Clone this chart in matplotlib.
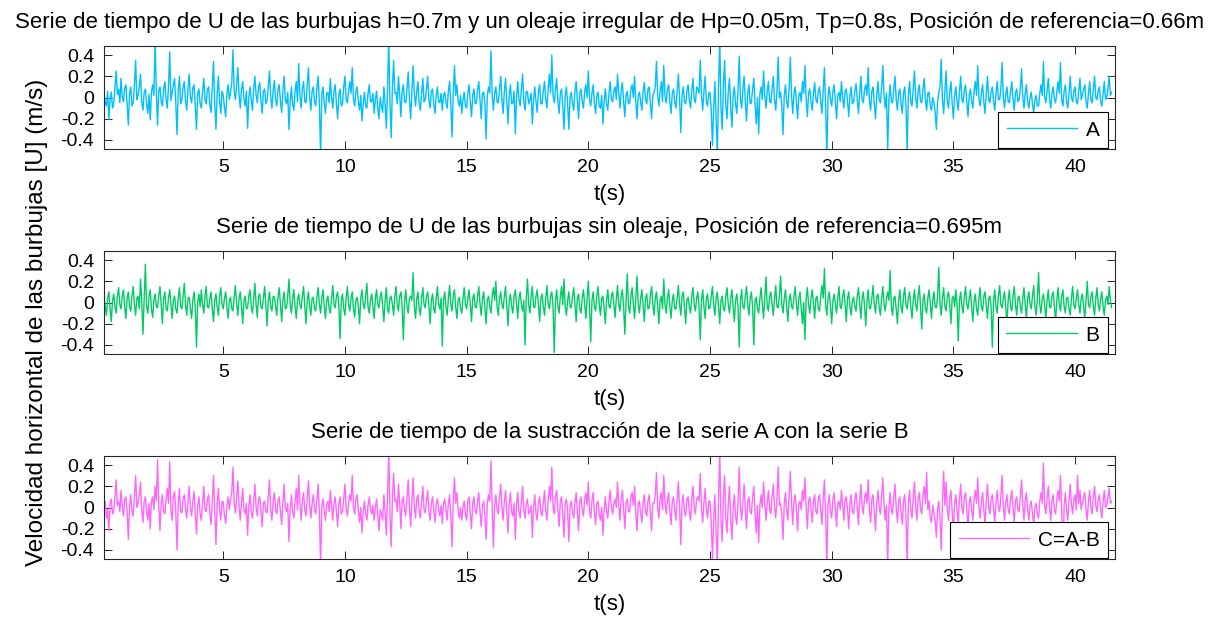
import numpy as np
import matplotlib
matplotlib.use("Agg")
import matplotlib.pyplot as plt

plt.rcParams['font.family'] = ['Liberation Sans', 'DejaVu Sans']
plt.rcParams['axes.unicode_minus'] = False

# sampled every 0.05 s starting at t = 0.1 s, one row per second
t0 = 0.1
dt = 0.05

u_a = [
    0.02, -0.04, -0.08, 0.06, -0.21, -0.02, 0.05, -0.1, -0.06, 0.1, 0.25, 0.03, 0.08, -0.05, 0.18, 0.0, -0.04, 0.09, 0.12, -0.06,
    -0.26, 0.04, 0.1, -0.08, -0.05, 0.12, 0.35, -0.02, 0.02, 0.1, 0.22, -0.04, -0.12, 0.05, 0.08, -0.06, -0.15, 0.03, -0.21, 0.05,
    0.12, 0.02, 0.55, 0.05, -0.26, 0.06, 0.1, -0.04, -0.08, 0.08, 0.15, -0.02, -0.1, 0.1, 0.43, -0.03, 0.05, 0.12, 0.18, -0.05,
    -0.35, 0.06, 0.2, -0.06, -0.02, 0.1, 0.15, -0.04, -0.12, 0.08, 0.22, 0.0, -0.05, 0.09, 0.12, -0.08, -0.3, 0.04, 0.08, -0.06,
    -0.1, 0.06, 0.18, -0.02, -0.06, 0.08, 0.1, -0.08, -0.14, 0.1, 0.34, -0.06, -0.3, 0.04, 0.2, -0.04, -0.15, 0.06, 0.02, -0.1,
    -0.18, 0.04, 0.12, -0.02, 0.05, 0.14, 0.45, 0.06, -0.02, 0.12, 0.28, 0.02, -0.1, 0.08, 0.15, -0.02, -0.08, 0.06, -0.29, 0.0,
    0.1, -0.02, -0.12, 0.08, 0.2, 0.02, -0.05, 0.1, 0.14, -0.04, -0.15, 0.06, 0.08, -0.06, -0.03, 0.1, 0.25, 0.0, -0.1, 0.06,
    0.16, -0.02, -0.08, 0.08, 0.12, -0.04, -0.14, 0.06, 0.2, -0.02, -0.06, 0.05, -0.3, -0.04, 0.1, -0.06, -0.12, 0.06, 0.15, -0.04,
    0.32, 0.02, -0.1, 0.08, 0.15, -0.04, -0.05, 0.12, 0.28, 0.0, -0.12, 0.06, 0.1, -0.04, -0.08, 0.1, 0.2, -0.06, -0.55, 0.04,
    0.1, -0.06, -0.15, 0.04, 0.05, -0.05, 0.18, 0.0, -0.1, 0.06, 0.12, -0.06, -0.2, 0.02, 0.08, -0.08, -0.06, 0.1, 0.2, -0.02,
    -0.05, 0.06, 0.15, 0.04, 0.28, -0.02, -0.08, 0.06, 0.1, -0.04, -0.12, 0.02, -0.22, -0.06, 0.05, -0.08, -0.1, 0.04, 0.12, -0.04,
    -0.04, 0.04, -0.15, -0.02, 0.06, -0.1, -0.2, 0.0, -0.08, -0.14, 0.1, -0.06, -0.29, 0.08, 0.55, -0.06, -0.38, 0.1, 0.35, 0.04,
    0.05, -0.06, 0.2, 0.02, -0.18, 0.06, 0.12, -0.04, -0.05, 0.08, 0.24, -0.02, -0.2, 0.06, 0.3, 0.04, -0.08, 0.06, 0.15, -0.06,
    -0.12, 0.04, 0.18, -0.04, -0.02, 0.08, 0.2, -0.02, -0.1, 0.06, 0.08, -0.06, -0.15, 0.02, 0.1, -0.04, -0.05, 0.04, -0.12, 0.02,
    0.05, -0.04, -0.1, 0.06, 0.15, -0.06, -0.37, 0.04, 0.3, 0.02, 0.12, -0.04, -0.08, 0.02, -0.15, -0.02, 0.05, -0.08, -0.1, 0.04,
    0.12, -0.04, -0.18, 0.02, 0.08, -0.06, -0.05, 0.08, 0.15, -0.02, -0.2, 0.04, 0.05, -0.06, -0.39, 0.02, 0.1, 0.04, 0.44, 0.02,
    -0.12, 0.04, 0.1, -0.04, -0.05, 0.08, 0.2, -0.02, -0.15, 0.06, 0.18, -0.04, -0.25, 0.02, 0.12, -0.06, -0.05, 0.06, -0.34, 0.0,
    0.15, -0.02, -0.08, 0.08, 0.22, -0.04, -0.12, 0.06, 0.05, -0.06, -0.02, 0.04, -0.25, -0.02, 0.1, -0.04, -0.14, 0.06, 0.12, -0.06,
    -0.06, 0.06, 0.15, -0.02, -0.1, 0.08, 0.22, 0.04, 0.4, 0.02, -0.05, 0.08, 0.18, -0.04, -0.15, 0.04, 0.08, -0.08, -0.3, 0.02,
    0.1, -0.06, -0.3, 0.0, 0.05, -0.06, -0.12, 0.06, 0.15, -0.02, -0.2, 0.04, 0.08, -0.04, -0.1, 0.06, 0.12, 0.0, 0.25, -0.02,
    -0.08, 0.04, 0.12, -0.06, -0.15, 0.02, 0.05, -0.08, -0.1, 0.02, -0.25, -0.04, 0.08, -0.06, -0.12, 0.04, 0.15, -0.02, -0.04, 0.06,
    0.1, -0.02, 0.22, 0.04, -0.1, 0.06, 0.14, -0.04, -0.18, 0.02, 0.06, -0.06, -0.05, 0.08, 0.12, 0.0, 0.2, -0.04, -0.2, 0.02,
    0.05, -0.04, -0.12, 0.06, 0.14, -0.02, -0.06, 0.08, 0.1, -0.06, -0.2, 0.02, 0.05, 0.1, 0.34, 0.02, -0.08, 0.06, 0.15, -0.04,
    0.3, 0.02, -0.05, 0.08, 0.12, -0.04, -0.15, 0.04, 0.08, -0.04, -0.1, 0.06, 0.22, -0.02, -0.33, 0.02, 0.1, -0.04, -0.06, 0.06,
    0.12, -0.02, -0.1, 0.06, 0.18, -0.02, -0.05, 0.1, 0.08, 0.04, 0.35, 0.02, -0.12, 0.06, 0.2, -0.04, -0.08, 0.04, 0.05, -0.12,
    -0.45, -0.1, 0.15, -0.2, -0.55, 0.1, 0.55, -0.1, -0.3, 0.12, 0.35, -0.08, -0.2, 0.06, 0.18, -0.1, -0.28, 0.02, 0.1, -0.06,
    -0.15, 0.06, 0.39, -0.02, -0.1, 0.08, 0.2, -0.04, -0.22, 0.04, 0.12, -0.06, -0.05, 0.08, 0.18, -0.06, -0.25, 0.0, -0.34, 0.04,
    0.1, -0.02, 0.25, 0.02, -0.1, 0.06, 0.15, -0.04, -0.05, 0.08, 0.2, -0.02, -0.12, 0.06, 0.38, 0.0, 0.05, -0.08, -0.35, 0.02,
    0.12, -0.04, -0.1, 0.08, 0.38, 0.02, -0.15, 0.04, 0.1, -0.04, -0.2, 0.02, 0.05, -0.04, 0.15, 0.04, 0.3, -0.02, -0.18, 0.04,
    0.08, -0.04, -0.12, 0.04, 0.14, -0.02, -0.05, 0.06, 0.1, -0.04, -0.15, 0.06, 0.28, -0.08, -0.55, 0.02, 0.1, -0.02, -0.08, 0.06,
    0.12, -0.04, -0.2, 0.02, 0.05, -0.04, 0.15, 0.0, -0.1, 0.06, 0.08, -0.04, -0.18, 0.02, 0.1, -0.06, -0.04, 0.06, 0.13, -0.02,
    -0.15, 0.04, 0.2, -0.02, -0.05, 0.08, 0.12, 0.02, 0.28, -0.04, -0.12, 0.06, 0.1, -0.06, -0.2, 0.02, 0.15, -0.02, -0.05, 0.08,
    0.3, 0.02, -0.1, 0.04, -0.5, -0.02, 0.12, -0.04, -0.05, 0.08, 0.2, -0.02, -0.12, 0.04, 0.08, -0.06, -0.15, 0.04, 0.1, -0.08,
    -0.5, 0.02, 0.15, -0.04, -0.08, 0.08, 0.25, 0.0, -0.1, 0.06, 0.12, -0.04, -0.05, 0.08, 0.18, -0.02, -0.12, 0.04, 0.05, -0.08,
    -0.12, 0.0, -0.05, -0.14, -0.3, -0.04, 0.05, 0.1, 0.36, -0.02, -0.15, 0.06, 0.25, -0.04, -0.1, 0.06, 0.15, -0.06, -0.2, 0.02,
    0.1, -0.04, -0.12, 0.06, 0.2, -0.02, -0.05, 0.08, 0.12, -0.04, -0.18, 0.02, 0.08, -0.04, -0.1, 0.06, 0.15, 0.02, 0.3, -0.02,
    -0.08, 0.04, 0.12, -0.04, -0.15, 0.04, 0.2, -0.02, -0.05, 0.06, 0.1, -0.04, -0.12, 0.04, 0.15, -0.02, -0.02, 0.08, 0.33, 0.0,
    -0.1, 0.02, 0.1, -0.04, -0.05, 0.06, 0.15, -0.02, -0.12, 0.04, 0.08, -0.04, -0.02, 0.08, 0.27, 0.0, -0.1, 0.04, 0.12, -0.04,
    -0.1, 0.0, 0.05, -0.06, -0.15, -0.02, 0.02, -0.08, -0.08, 0.04, 0.12, 0.02, 0.34, 0.0, -0.05, 0.06, 0.18, -0.02, -0.1, 0.04,
    0.1, -0.02, -0.05, 0.06, 0.15, 0.04, 0.33, -0.02, -0.08, 0.06, 0.12, -0.04, -0.1, 0.04, 0.2, 0.0, -0.04, 0.06, 0.1, -0.04,
    -0.06, 0.06, 0.18, -0.02, 0.02, 0.08, 0.12, -0.04, -0.1, 0.04, 0.15, -0.02, -0.05, 0.08, 0.2, 0.0, -0.02, 0.06, 0.1, -0.04,
    -0.08, 0.04, 0.15, -0.02, 0.0, 0.08, 0.2, 0.02, 0.05,
]

u_b = [
    0.05, -0.04, -0.12, 0.04, 0.1, -0.06, -0.18, 0.02, 0.08, -0.04, -0.1, 0.06, 0.14, -0.02, -0.06, 0.06, 0.12, -0.04, -0.15, 0.04,
    0.1, -0.04, -0.08, 0.06, 0.15, -0.02, -0.12, 0.04, 0.06, -0.06, 0.22, 0.02, -0.3, 0.04, 0.36, -0.04, -0.1, 0.06, 0.12, -0.06,
    -0.14, 0.02, 0.08, -0.04, -0.05, 0.06, 0.15, -0.02, -0.2, 0.04, 0.1, -0.06, -0.08, 0.04, 0.12, -0.02, -0.15, 0.02, 0.06, -0.06,
    -0.1, 0.04, 0.14, -0.04, -0.06, 0.06, 0.18, -0.02, -0.12, 0.04, 0.05, -0.06, -0.15, 0.02, 0.1, -0.04, -0.42, 0.0, 0.08, -0.04,
    0.12, -0.02, -0.1, 0.06, 0.15, -0.04, -0.05, 0.04, 0.1, -0.06, -0.18, 0.02, 0.08, -0.04, -0.12, 0.06, 0.14, -0.02, -0.06, 0.04,
    0.1, -0.04, -0.15, 0.02, 0.05, -0.06, -0.08, 0.06, 0.16, -0.02, -0.12, 0.04, 0.1, -0.04, -0.2, 0.02, 0.06, -0.06, -0.05, 0.06,
    0.12, -0.04, -0.1, 0.04, 0.18, -0.02, -0.14, 0.06, 0.08, -0.04, -0.06, 0.04, 0.15, -0.02, -0.22, 0.02, 0.1, -0.04, -0.08, 0.06,
    0.05, -0.04, -0.12, 0.06, 0.14, -0.02, -0.18, 0.02, 0.1, -0.06, -0.05, 0.06, 0.22, -0.02, -0.1, 0.04, 0.12, -0.04, -0.15, 0.02,
    0.08, -0.02, -0.06, 0.06, 0.15, -0.04, -0.2, 0.02, 0.1, -0.04, -0.12, 0.04, 0.05, -0.06, -0.08, 0.06, 0.14, -0.02, -0.1, 0.04,
    0.12, -0.04, -0.15, 0.02, 0.06, -0.06, -0.1, 0.04, 0.16, -0.02, -0.05, 0.06, 0.1, -0.04, -0.34, 0.02, 0.08, -0.06, -0.12, 0.04,
    0.15, -0.02, -0.08, 0.04, 0.1, -0.06, -0.14, 0.02, 0.05, -0.04, -0.2, 0.04, 0.12, -0.02, -0.06, 0.06, 0.18, -0.04, -0.1, 0.02,
    0.08, -0.04, -0.15, 0.04, 0.12, -0.02, -0.05, 0.06, 0.1, -0.04, -0.18, 0.02, 0.14, -0.06, -0.1, 0.04, 0.06, -0.02, -0.12, 0.06,
    0.15, -0.02, -0.08, 0.06, 0.1, -0.04, -0.35, 0.02, 0.12, -0.04, -0.1, 0.04, 0.06, 0.02, 0.28, -0.04, -0.15, 0.04, 0.1, -0.06,
    -0.12, 0.04, 0.14, -0.02, -0.05, 0.06, 0.1, -0.04, -0.2, 0.02, 0.08, -0.06, -0.1, 0.04, 0.15, -0.02, -0.06, 0.04, -0.41, 0.02,
    0.1, -0.04, -0.12, 0.04, 0.16, -0.02, -0.08, 0.06, 0.12, -0.04, -0.15, 0.02, 0.05, -0.06, -0.1, 0.04, 0.14, -0.02, -0.06, 0.04,
    0.12, -0.02, -0.18, 0.04, 0.08, -0.04, -0.05, 0.06, 0.15, -0.02, -0.12, 0.04, 0.1, -0.06, -0.2, 0.02, 0.06, -0.04, -0.1, 0.06,
    0.14, 0.02, 0.2, -0.04, -0.12, 0.04, 0.1, -0.02, -0.06, 0.06, 0.15, -0.04, -0.22, 0.02, 0.08, -0.04, -0.1, 0.06, 0.12, -0.02,
    -0.15, 0.04, 0.1, -0.02, -0.08, 0.02, -0.4, 0.04, 0.22, -0.02, -0.1, 0.06, 0.15, -0.04, -0.05, 0.06, 0.12, -0.02, -0.18, 0.04,
    0.08, -0.04, -0.12, 0.04, 0.16, -0.02, -0.06, 0.06, 0.1, -0.04, -0.47, 0.02, 0.12, -0.04, -0.1, 0.06, 0.15, -0.02, 0.22, -0.04,
    -0.12, 0.02, 0.1, -0.04, -0.05, 0.06, 0.14, -0.02, -0.18, 0.04, 0.08, -0.06, -0.1, 0.04, 0.12, -0.02, -0.15, 0.04, 0.2, -0.04,
    -0.37, 0.02, 0.1, -0.04, -0.08, 0.06, 0.15, -0.02, -0.12, 0.04, 0.06, -0.06, -0.2, 0.02, 0.12, -0.04, -0.05, 0.06, 0.1, -0.02,
    -0.14, 0.04, 0.16, -0.02, -0.08, 0.06, 0.12, -0.04, -0.3, 0.02, 0.27, -0.04, -0.1, 0.06, 0.14, -0.02, -0.15, 0.04, 0.25, -0.02,
    -0.1, 0.04, 0.12, -0.02, -0.18, 0.04, 0.08, -0.06, -0.05, 0.06, 0.15, -0.02, -0.12, 0.04, 0.1, -0.04, -0.2, 0.02, 0.06, -0.06,
    0.22, -0.02, -0.1, 0.04, 0.12, -0.04, -0.15, 0.02, 0.08, -0.06, -0.06, 0.04, 0.16, -0.02, -0.12, 0.06, 0.1, -0.04, -0.2, 0.02,
    0.05, -0.04, -0.1, 0.06, 0.14, -0.02, -0.08, 0.04, 0.1, -0.04, -0.35, 0.02, 0.12, -0.04, -0.15, 0.04, 0.08, -0.06, -0.05, 0.06,
    0.15, -0.02, -0.12, 0.04, 0.1, -0.04, -0.2, 0.02, 0.06, -0.06, -0.08, 0.06, 0.14, -0.02, -0.1, 0.04, 0.12, -0.04, -0.18, 0.02,
    0.08, -0.04, -0.42, 0.02, 0.12, -0.04, -0.06, 0.06, 0.15, -0.02, -0.12, 0.04, 0.1, -0.04, -0.4, 0.02, 0.05, -0.06, -0.1, 0.04,
    0.14, -0.02, -0.15, 0.04, 0.24, -0.04, -0.08, 0.06, 0.1, -0.02, -0.12, 0.04, 0.16, -0.04, -0.05, 0.06, 0.25, -0.02, -0.1, 0.04,
    0.12, -0.04, -0.18, 0.02, 0.08, -0.04, -0.06, 0.06, 0.15, -0.02, -0.12, 0.04, 0.1, -0.06, -0.2, 0.0, -0.35, 0.04, 0.14, -0.02,
    -0.1, 0.04, 0.12, -0.02, -0.15, 0.04, 0.06, -0.06, -0.08, 0.06, 0.16, 0.04, 0.32, -0.02, -0.12, 0.04, 0.1, -0.04, -0.2, 0.02,
    0.08, -0.02, -0.1, 0.04, 0.15, -0.04, -0.06, 0.06, 0.12, -0.02, -0.18, 0.04, 0.1, -0.04, -0.12, 0.02, 0.05, -0.04, -0.08, 0.06,
    0.14, -0.02, -0.15, 0.04, 0.1, -0.04, -0.22, 0.02, 0.12, -0.06, -0.05, 0.04, 0.16, -0.02, -0.1, 0.06, 0.08, -0.04, -0.12, 0.04,
    0.15, -0.02, -0.08, 0.04, 0.1, 0.02, 0.3, -0.04, -0.12, 0.04, 0.06, -0.06, -0.2, 0.02, 0.12, -0.04, -0.1, 0.06, 0.14, -0.02,
    -0.06, 0.04, 0.1, -0.04, -0.15, 0.02, 0.12, -0.02, -0.08, 0.06, 0.16, -0.04, -0.25, 0.02, 0.08, -0.06, -0.1, 0.04, 0.12, -0.02,
    -0.15, 0.02, 0.1, -0.04, -0.05, 0.06, 0.33, -0.02, -0.12, 0.04, 0.14, -0.04, -0.08, 0.06, 0.1, -0.02, -0.2, 0.04, 0.06, -0.04,
    0.12, -0.02, -0.36, 0.02, 0.1, -0.04, -0.1, 0.06, 0.15, -0.02, -0.06, 0.04, 0.12, -0.04, -0.18, 0.02, 0.08, -0.06, -0.12, 0.04,
    0.14, -0.04, -0.08, 0.06, 0.1, -0.02, -0.15, 0.04, 0.06, -0.04, -0.42, 0.02, 0.12, -0.04, -0.1, 0.06, 0.16, -0.02, -0.05, 0.04,
    0.1, -0.04, -0.2, 0.02, 0.12, -0.04, -0.08, 0.06, 0.15, -0.02, -0.12, 0.04, 0.06, -0.04, -0.1, 0.04, 0.14, -0.02, -0.15, 0.04,
    0.1, -0.02, -0.06, 0.06, 0.16, -0.04, -0.12, 0.04, 0.28, -0.02, -0.1, 0.04, 0.08, -0.04, -0.15, 0.02, 0.12, -0.04, -0.05, 0.06,
    0.1, -0.04, -0.18, 0.02, 0.14, -0.02, -0.08, 0.06, 0.12, -0.04, -0.1, 0.04, 0.05, -0.06, -0.12, 0.04, 0.15, -0.02, -0.06, 0.04,
    0.12, -0.02, -0.1, 0.04, 0.08, -0.04, -0.15, 0.02, 0.2, -0.02, -0.05, 0.06, 0.1, -0.04, -0.12, 0.04, 0.14, -0.02, -0.08, 0.04,
    0.1, -0.04, -0.12, 0.02, 0.06, -0.02, 0.15, 0.02, -0.05,
]

u_c = [
    0.0, 0.06, -0.1, -0.02, -0.22, 0.04, 0.08, -0.06, -0.04, 0.1, 0.26, 0.02, 0.06, -0.04, 0.16, 0.02, -0.08, 0.08, 0.1, -0.04,
    -0.3, 0.02, 0.12, -0.04, -0.08, 0.1, 0.3, 0.0, 0.04, 0.12, 0.24, -0.02, -0.14, 0.06, 0.1, -0.04, -0.12, 0.04, -0.2, 0.06,
    0.1, -0.02, 0.2, 0.06, 0.45, 0.02, -0.22, 0.04, 0.12, -0.04, -0.06, 0.08, 0.18, 0.04, 0.43, -0.02, -0.12, 0.1, 0.15, -0.04,
    -0.4, 0.04, 0.18, -0.04, -0.05, 0.08, 0.12, -0.02, -0.1, 0.06, 0.2, 0.0, -0.08, 0.06, 0.15, -0.06, -0.25, 0.02, 0.1, -0.06,
    -0.12, 0.04, 0.2, -0.02, -0.04, 0.08, 0.12, -0.06, -0.16, 0.08, 0.3, -0.04, -0.35, 0.04, 0.18, -0.02, -0.12, 0.06, 0.05, -0.08,
    -0.15, 0.02, 0.1, -0.02, 0.08, 0.14, 0.38, 0.04, -0.05, 0.1, 0.25, 0.0, -0.12, 0.06, 0.18, -0.02, -0.06, 0.04, -0.26, 0.02,
    0.12, -0.04, -0.1, 0.06, 0.22, 0.0, -0.08, 0.08, 0.1, -0.04, -0.18, 0.04, 0.06, -0.04, -0.05, 0.1, 0.26, -0.02, -0.12, 0.06,
    0.14, -0.02, -0.06, 0.06, 0.1, -0.04, -0.16, 0.04, 0.22, 0.0, -0.04, 0.04, -0.32, -0.02, 0.12, -0.04, -0.1, 0.06, 0.18, -0.02,
    0.3, 0.04, -0.12, 0.06, 0.14, -0.02, -0.08, 0.1, 0.25, 0.02, -0.1, 0.04, 0.12, -0.02, -0.06, 0.08, 0.22, -0.04, -0.55, 0.02,
    0.08, -0.04, -0.12, 0.02, 0.06, -0.04, 0.16, 0.02, -0.12, 0.04, 0.1, -0.04, -0.18, 0.04, 0.1, -0.06, -0.04, 0.08, 0.22, 0.0,
    -0.08, 0.04, 0.12, 0.06, 0.3, 0.0, -0.06, 0.08, 0.12, -0.02, -0.14, 0.0, -0.24, -0.04, 0.06, -0.06, -0.12, 0.02, 0.1, -0.02,
    -0.06, 0.02, -0.12, 0.0, 0.08, -0.08, -0.22, -0.02, -0.06, -0.12, 0.12, -0.04, -0.26, 0.1, 0.55, -0.04, -0.37, 0.08, 0.32, 0.06,
    0.08, -0.04, 0.22, 0.04, -0.2, 0.06, 0.1, -0.02, -0.08, 0.1, 0.26, 0.0, -0.18, 0.06, 0.28, 0.02, -0.1, 0.08, 0.12, -0.04,
    -0.1, 0.06, 0.2, -0.02, -0.05, 0.06, 0.16, -0.04, -0.12, 0.04, 0.1, -0.04, -0.14, 0.04, 0.08, -0.02, -0.08, 0.02, -0.15, 0.04,
    0.08, -0.02, -0.12, 0.04, 0.12, -0.08, -0.37, 0.06, 0.28, 0.04, 0.14, -0.02, -0.1, 0.0, -0.12, 0.0, 0.06, -0.06, -0.12, 0.06,
    0.1, -0.06, -0.2, 0.04, 0.1, -0.04, -0.06, 0.06, 0.14, -0.04, -0.18, 0.02, 0.06, -0.08, -0.3, 0.04, 0.12, 0.06, 0.44, 0.0,
    -0.38, 0.02, 0.12, -0.02, -0.06, 0.1, 0.22, 0.0, -0.12, 0.06, 0.16, -0.04, -0.24, 0.04, 0.14, -0.04, -0.08, 0.04, -0.3, 0.02,
    0.14, -0.04, -0.1, 0.06, 0.2, -0.02, -0.1, 0.04, 0.08, -0.06, -0.04, 0.02, -0.28, 0.0, 0.12, -0.06, -0.12, 0.04, 0.1, -0.04,
    -0.08, 0.04, 0.16, -0.04, -0.12, 0.06, 0.2, 0.06, 0.38, 0.0, -0.06, 0.1, 0.16, -0.02, -0.18, 0.06, 0.1, -0.06, -0.28, 0.04,
    0.08, -0.04, -0.32, 0.02, 0.06, -0.04, -0.1, 0.04, 0.14, -0.04, -0.22, 0.06, 0.1, -0.02, -0.08, 0.08, 0.14, 0.02, 0.24, -0.04,
    -0.1, 0.06, 0.14, -0.04, -0.16, 0.04, 0.06, -0.06, -0.12, 0.0, -0.26, -0.02, 0.1, -0.04, -0.1, 0.06, 0.16, 0.0, -0.06, 0.04,
    0.08, 0.0, 0.24, 0.02, -0.12, 0.08, 0.16, -0.02, -0.2, 0.04, 0.08, -0.04, -0.04, 0.1, 0.14, 0.02, 0.2, -0.06, -0.22, 0.04,
    0.06, -0.06, -0.14, 0.04, 0.12, -0.04, -0.08, 0.06, 0.12, -0.04, -0.22, 0.04, 0.04, 0.12, 0.33, 0.0, -0.1, 0.08, 0.14, -0.02,
    0.3, 0.04, -0.06, 0.06, 0.14, -0.04, -0.16, 0.06, 0.1, -0.02, -0.12, 0.08, 0.24, 0.0, -0.35, 0.04, 0.12, -0.04, -0.08, 0.08,
    0.1, -0.04, -0.12, 0.08, 0.2, 0.0, -0.06, 0.08, 0.1, 0.06, 0.32, 0.0, -0.14, 0.04, 0.18, -0.02, -0.1, 0.06, 0.06, -0.14,
    -0.48, -0.12, 0.12, -0.22, -0.55, 0.08, 0.55, -0.12, -0.32, 0.1, 0.3, -0.1, -0.24, 0.04, 0.2, -0.12, -0.3, 0.0, 0.12, -0.08,
    -0.16, 0.04, 0.38, 0.0, -0.12, 0.06, 0.22, -0.02, -0.2, 0.06, 0.1, -0.04, -0.06, 0.1, 0.2, -0.04, -0.24, 0.02, -0.33, 0.02,
    0.12, 0.0, 0.24, 0.04, -0.12, 0.04, 0.16, -0.02, -0.06, 0.1, 0.22, 0.0, -0.1, 0.08, 0.38, 0.02, 0.04, -0.06, -0.3, 0.04,
    0.14, -0.02, -0.12, 0.1, 0.34, 0.04, -0.16, 0.06, 0.12, -0.02, -0.22, 0.04, 0.06, -0.02, 0.16, 0.06, 0.28, 0.0, -0.2, 0.06,
    0.1, -0.02, -0.14, 0.06, 0.12, -0.04, -0.06, 0.08, 0.12, -0.02, -0.16, 0.08, 0.26, -0.06, -0.55, 0.04, 0.12, -0.04, -0.1, 0.08,
    0.14, -0.02, -0.18, 0.04, 0.06, -0.02, 0.16, 0.02, -0.12, 0.08, 0.1, -0.02, -0.2, 0.04, 0.12, -0.04, -0.06, 0.08, 0.14, 0.0,
    -0.16, 0.06, 0.22, 0.0, -0.06, 0.1, 0.14, 0.04, 0.26, -0.02, -0.14, 0.08, 0.12, -0.04, -0.22, 0.04, 0.16, 0.0, -0.06, 0.1,
    0.28, 0.04, -0.12, 0.02, -0.55, 0.0, 0.14, -0.02, -0.06, 0.1, 0.22, 0.0, -0.14, 0.06, 0.1, -0.04, -0.16, 0.06, 0.12, -0.06,
    -0.55, 0.04, 0.16, -0.02, -0.1, 0.1, 0.24, 0.02, -0.12, 0.08, 0.14, -0.02, -0.06, 0.1, 0.2, 0.04, 0.33, -0.02, 0.06, -0.1,
    -0.14, 0.02, -0.06, -0.12, -0.28, -0.02, 0.06, -0.1, -0.4, 0.04, 0.34, 0.02, 0.24, -0.02, -0.12, 0.08, 0.16, -0.04, -0.22, 0.04,
    0.12, -0.02, -0.14, 0.08, 0.22, 0.0, -0.06, 0.1, 0.14, -0.02, -0.2, 0.04, 0.1, -0.02, -0.12, 0.08, 0.16, 0.04, 0.28, 0.0,
    -0.1, 0.06, 0.14, -0.02, -0.16, 0.06, 0.22, 0.0, -0.06, 0.08, 0.12, -0.02, -0.14, 0.06, 0.16, 0.0, -0.04, 0.1, 0.3, 0.02,
    -0.12, 0.04, 0.12, -0.02, -0.06, 0.08, 0.16, 0.0, -0.14, 0.06, 0.1, -0.02, -0.04, 0.1, 0.26, 0.02, -0.12, 0.06, 0.14, -0.02,
    -0.12, 0.02, 0.06, -0.06, -0.16, 0.0, 0.04, -0.06, -0.1, 0.06, 0.14, 0.04, 0.42, 0.02, -0.06, 0.08, 0.2, 0.0, -0.12, 0.06,
    0.12, -0.02, -0.06, 0.08, 0.16, 0.06, 0.3, -0.04, -0.55, 0.02, 0.14, -0.02, -0.12, 0.06, 0.22, 0.02, -0.06, 0.08, 0.12, -0.02,
    0.3, 0.04, 0.16, -0.02, 0.04, 0.1, 0.14, -0.02, -0.12, 0.06, 0.16, 0.0, -0.06, 0.1, 0.2, 0.02, -0.04, 0.08, 0.12, -0.02,
    -0.1, 0.06, 0.16, 0.0, 0.02, 0.1, 0.18, 0.04, 0.06,
]

series = [u_a, u_b, u_c]
labels = ['A', 'B', 'C=A-B']
colors = ['#00BFFF', '#00CC66', '#FF66FF']
titles = [
    'Serie de tiempo de U de las burbujas h=0.7m y un oleaje irregular de Hp=0.05m, Tp=0.8s, Posición de referencia=0.66m',
    'Serie de tiempo de U de las burbujas sin oleaje, Posición de referencia=0.695m',
    'Serie de tiempo de la sustracción de la serie A con la serie B',
]
xticks = [5, 10, 15, 20, 25, 30, 35, 40]
yticks = [-0.4, -0.2, 0, 0.2, 0.4]
ytick_labels = ['-0.4', '-0.2', '0', '0.2', '0.4']

W, H = 1224, 618
fig = plt.figure(figsize=(W / 100, H / 100), dpi=100)

# axes boxes in pixels: (top, bottom)
boxes = [(46, 149), (251, 354), (456, 559)]
left, right = 104, 1115
axis_gray = '#262626'

for (top, bottom), u, lab, col, title in zip(boxes, series, labels, colors, titles):
    ax = fig.add_axes([left / W, 1 - bottom / H, (right - left) / W, (bottom - top) / H])
    t = t0 + dt * np.arange(len(u))
    ax.plot(t, u, color=col, lw=1.0, label=lab)
    ax.set_xlim(0.1, 41.64)
    ax.set_ylim(-0.485, 0.485)
    ax.set_xticks(xticks)
    ax.set_yticks(yticks)
    ax.set_yticklabels(ytick_labels)
    ax.tick_params(direction='in', top=True, right=True, length=5.8, width=0.7,
                   color=axis_gray, labelsize=14, pad=7)
    for s in ax.spines.values():
        s.set_color(axis_gray)
        s.set_linewidth(0.8)
    ax.set_title(title, fontsize=16, pad=13)
    ax.set_xlabel('t(s)', fontsize=16, labelpad=6)
    leg = ax.legend(loc='lower right', bbox_to_anchor=(0.993, 0.01), borderaxespad=0,
                    fancybox=False, framealpha=1, edgecolor='black', fontsize=15,
                    handlelength=3.4, borderpad=0.4, handletextpad=0.4)
    leg.get_frame().set_linewidth(0.8)

fig.text(37 / W, 1 - 322 / H, 'Velocidad horizontal de las burbujas [U] (m/s)',
         rotation=90, ha='center', va='center', fontsize=17.5)

fig.savefig('out.png', dpi=100)
